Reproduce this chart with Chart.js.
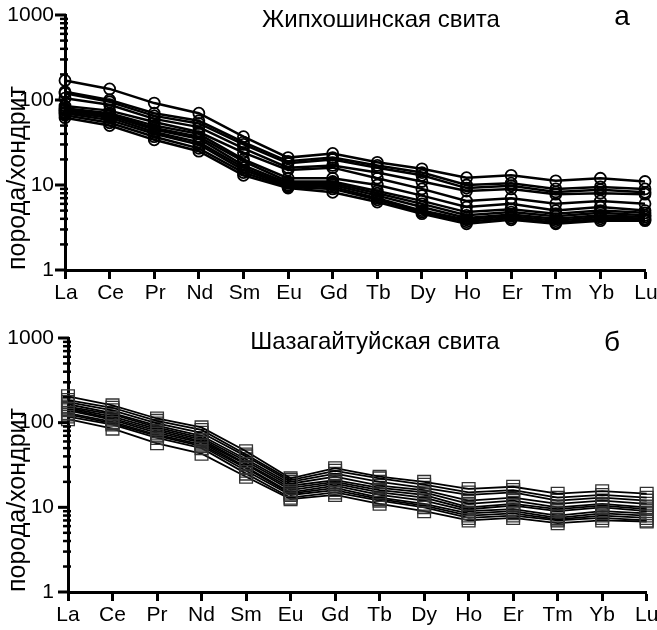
<!DOCTYPE html>
<html>
<head>
<meta charset="utf-8">
<script src="https://cdn.jsdelivr.net/npm/chart.js@4.4.1/dist/chart.umd.min.js"></script>
<style>
    html, body { margin: 0; padding: 0; background: #fff; }
    .panel { position: absolute; left: 0; width: 657px; height: 315px; }
</style>
</head>
<body>
<div class="panel" style="top:0"><canvas id="chartA"></canvas></div>
<div class="panel" style="top:315px"><canvas id="chartB"></canvas></div>
<script>
// REE, нормированные на хондрит
const elements = ['La', 'Ce', 'Pr', 'Nd', 'Sm', 'Eu', 'Gd', 'Tb', 'Dy', 'Ho', 'Er', 'Tm', 'Yb', 'Lu'];
const yTickValues = [1, 10, 100, 1000];

// а - Жипхошинская свита
const zhipkhoshinSamples = [
    [170, 135, 92, 70, 37, 21, 23.5, 18.5, 15.5, 12.2, 13, 11.2, 12, 11],
    [125, 100, 70, 57, 32, 19, 21, 17, 14, 10, 10.5, 9, 9.5, 9],
    [120, 95, 65, 53, 30, 18, 20, 16, 13, 9.2, 9.8, 8.3, 8.8, 8.2],
    [105, 88, 60, 48, 27, 16, 17, 14, 11, 8.5, 9, 7.8, 8, 7.8],
    [85, 75, 55, 42, 24, 15, 16, 12, 9, 6.5, 7, 6, 6.5, 6],
    [80, 70, 50, 40, 20, 12, 12, 10, 7.5, 5.5, 6, 5, 5.5, 5],
    [78, 68, 47, 37, 19, 11, 11, 8.5, 6.5, 4.8, 5.2, 4.6, 5, 4.7],
    [75, 65, 45, 35, 17, 10.5, 10.5, 8, 6, 4.4, 4.8, 4.3, 4.7, 4.4],
    [72, 62, 42, 32, 16, 10, 10, 7.5, 5.5, 4.1, 4.5, 4, 4.4, 4.2],
    [70, 58, 40, 30, 15, 9.8, 9.5, 7, 5, 3.9, 4.3, 3.8, 4.2, 4],
    [66, 54, 37, 27, 14, 9.5, 9, 6.7, 4.8, 3.7, 4.1, 3.6, 4, 3.9],
    [62, 50, 34, 25, 13, 9.2, 8.2, 6.3, 4.6, 3.5, 3.9, 3.5, 3.8, 3.8]
];

// б - Шазагайтуйская свита
const shazagaitSamples = [
    [205, 160, 112, 88, 46, 22, 29, 23, 20, 16.5, 17.5, 14.5, 15.5, 14.5],
    [185, 150, 105, 82, 42, 21, 27, 22, 18.5, 15, 16, 13, 14, 13],
    [175, 140, 98, 76, 40, 20, 25, 20, 17, 14, 15, 12, 13, 12],
    [165, 130, 92, 70, 37, 19, 23, 18, 16, 12, 13, 11, 12, 11],
    [155, 125, 88, 66, 35, 18, 21, 17, 15, 11, 12, 10, 11, 10],
    [150, 118, 84, 63, 33, 17, 20, 16, 14, 10, 11, 9.5, 10.5, 9.5],
    [145, 112, 80, 60, 32, 16, 19, 15, 13, 9.5, 10.5, 9, 10, 9],
    [140, 108, 76, 58, 30, 15, 18, 14, 12, 9, 9.5, 8, 9, 8.5],
    [130, 102, 72, 55, 29, 14.5, 17, 13, 11, 8.5, 9, 7.5, 8.5, 8],
    [125, 98, 70, 53, 27, 14, 16, 12.5, 10.5, 8, 8.5, 7.2, 8, 7.5],
    [118, 95, 66, 50, 25, 13, 15, 12, 10, 7.5, 8, 7, 7.5, 7],
    [110, 85, 57, 43, 23, 12.5, 14, 11, 9, 7, 7.5, 6.5, 7, 6.8]
];

Chart.defaults.font.family = "'Liberation Sans', Arial, sans-serif";
Chart.defaults.color = '#000';

// минорные засечки log-оси и подписи панелей
const panelDecor = {
    id: 'panelDecor',
    afterDraw(chart, args, opts) {
        const ctx = chart.ctx;
        const y = chart.scales.y;
        const left = chart.chartArea.left;
        ctx.save();
        ctx.strokeStyle = '#000';
        ctx.lineCap = 'butt';
        for (let d = 0; d < yTickValues.length; d++) {
            const base = yTickValues[d];
            let py = y.getPixelForValue(base);
            ctx.lineWidth = 3;
            ctx.beginPath();
            ctx.moveTo(left - 10, py);
            ctx.lineTo(left + 1, py);
            ctx.stroke();
            if (d === yTickValues.length - 1) break;
            for (let k = 2; k <= 9; k++) {
                py = y.getPixelForValue(base * k);
                ctx.lineWidth = 2.5;
                ctx.beginPath();
                ctx.moveTo(left - 5, py);
                ctx.lineTo(left + 3, py);
                ctx.stroke();
            }
        }
        ctx.fillStyle = '#000';
        ctx.textBaseline = 'alphabetic';
        ctx.textAlign = 'center';
        ctx.font = "24px 'Liberation Sans', Arial, sans-serif";
        ctx.fillText(opts.title, opts.titleX, opts.titleY);
        ctx.font = "28px 'Liberation Sans', Arial, sans-serif";
        ctx.fillText(opts.letter, opts.letterX, opts.letterY);
        ctx.restore();
    }
};

function makePanel(canvasId, samples, marker, lay) {
    const datasets = samples.map(function (values) {
        return {
            data: values,
            borderColor: '#000',
            borderWidth: marker.lineWidth,
            pointStyle: marker.style,
            pointRadius: marker.radius,
            pointBorderWidth: marker.pointWidth,
            pointBorderColor: marker.color,
            pointBackgroundColor: 'rgba(255,255,255,0)',
            tension: 0,
            clip: false
        };
    });

    return new Chart(document.getElementById(canvasId), {
        type: 'line',
        data: { labels: elements, datasets: datasets },
        plugins: [panelDecor],
        options: {
            responsive: true,
            maintainAspectRatio: false,
            animation: false,
            events: [],
            layout: { padding: { top: lay.top, right: lay.right, left: 0, bottom: 0 } },
            plugins: {
                legend: { display: false },
                tooltip: { enabled: false },
                panelDecor: lay.decor
            },
            scales: {
                x: {
                    type: 'category',
                    offset: false,
                    grid: { drawOnChartArea: false, drawTicks: true, tickLength: 9, tickWidth: 3, tickColor: '#000' },
                    border: { display: true, width: 3, color: '#000' },
                    ticks: { font: { size: 21 }, padding: 2, labelOffset: lay.labelOffset, autoSkip: false, maxRotation: 0 },
                    afterFit: function (s) {
                        s.height = lay.xHeight;
                        s.paddingLeft = 0;
                        s.paddingRight = 0;
                    }
                },
                y: {
                    type: 'logarithmic',
                    min: 1,
                    max: 1000,
                    grid: { drawOnChartArea: false, drawTicks: true, tickLength: 9, tickColor: 'rgba(0,0,0,0)' },
                    border: { display: true, width: 3, color: '#000' },
                    ticks: {
                        font: { size: 21 },
                        padding: lay.yPad,
                        autoSkip: false,
                        callback: function (v) { return String(v); }
                    },
                    afterBuildTicks: function (s) {
                        s.ticks = yTickValues.map(function (v) { return { value: v }; });
                    },
                    title: {
                        display: true,
                        text: 'порода/хондрит',
                        align: 'start',
                        font: { size: 25 },
                        padding: { top: 3, bottom: 0 }
                    },
                    afterFit: function (s) {
                        s.width = lay.yWidth;
                        s.paddingTop = 0;
                        s.paddingBottom = 0;
                    }
                }
            }
        }
    });
}

makePanel('chartA', zhipkhoshinSamples,
    { style: 'circle', radius: 5.5, pointWidth: 1.8, color: '#000', lineWidth: 2.5 },
    { top: 15, right: 12, xHeight: 45, yWidth: 65, yPad: 2, labelOffset: 1,
      decor: { title: 'Жипхошинская свита', titleX: 381, titleY: 27, letter: 'а', letterX: 622, letterY: 25 } });

makePanel('chartB', shazagaitSamples,
    { style: 'rect', radius: 9, pointWidth: 1.3, color: '#333', lineWidth: 1.8 },
    { top: 23, right: 9, xHeight: 38, yWidth: 68, yPad: 5, labelOffset: 0,
      decor: { title: 'Шазагайтуйская свита', titleX: 375, titleY: 34, letter: 'б', letterX: 612, letterY: 36 } });
</script>
</body>
</html>
